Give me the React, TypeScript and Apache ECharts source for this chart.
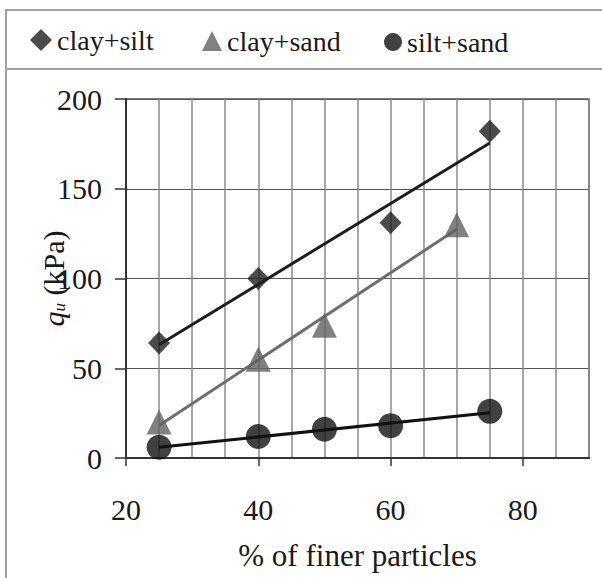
import React, { useEffect, useRef } from "react";
import * as echarts from "echarts";

const seriesNames = ["clay+silt", "clay+sand", "silt+sand"];
const claySiltX = [25, 40, 60, 75];
const claySiltY = [64, 100, 131, 182];
const claySandX = [25, 40, 50, 70];
const claySandY = [20, 55, 74, 130];
const siltSandX = [25, 40, 50, 60, 75];
const siltSandY = [6, 12, 16, 18, 26];
const xMajorTicks = [20, 40, 60, 80];

const FONT = "Times New Roman, Liberation Serif, DejaVu Serif, serif";

function fit(xs: number[], ys: number[]) {
  const n = xs.length;
  const mx = xs.reduce((a, b) => a + b, 0) / n;
  const my = ys.reduce((a, b) => a + b, 0) / n;
  let sxy = 0;
  let sxx = 0;
  for (let i = 0; i < n; i++) {
    sxy += (xs[i] - mx) * (ys[i] - my);
    sxx += (xs[i] - mx) * (xs[i] - mx);
  }
  const b = sxy / sxx;
  const a = my - b * mx;
  const x0 = Math.min(...xs);
  const x1 = Math.max(...xs);
  return [
    [x0, a + b * x0],
    [x1, a + b * x1],
  ];
}

function pts(xs: number[], ys: number[]) {
  return xs.map((x, i) => [x, ys[i]]);
}

export default function App() {
  const ref = useRef<HTMLDivElement>(null);
  useEffect(() => {
    document.body.style.margin = "0";
    const chart = echarts.init(ref.current!, null, { renderer: "svg" });
    const colors = ["#1e1e1e", "#626262", "#111111"];
    const legendBase = {
      top: 27,
      padding: 0,
      itemWidth: 20,
      itemHeight: 20,
      textStyle: { fontSize: 28, fontFamily: FONT, color: "#1a1a1a" },
      selectedMode: false,
    };
    chart.setOption({
      animation: false,
      backgroundColor: "#fff",
      textStyle: { fontFamily: FONT },
      graphic: [
        {
          type: "rect",
          shape: { x: 6, y: 10, width: 700, height: 700 },
          style: { fill: "none", stroke: "#a0a0a0", lineWidth: 2 },
          silent: true,
          z: -1,
        },
        {
          type: "line",
          shape: { x1: 6, y1: 69, x2: 700, y2: 69 },
          style: { stroke: "#a0a0a0", lineWidth: 2 },
          silent: true,
        },
      ],
      legend: [
        { ...legendBase, left: 30, itemWidth: 22, itemHeight: 22, top: 26, data: [seriesNames[0]] },
        { ...legendBase, left: 202, data: [seriesNames[1]] },
        { ...legendBase, left: 384, itemWidth: 18, itemHeight: 18, top: 28, data: [seriesNames[2]] },
      ],
      grid: { left: 126, top: 99, right: 13, bottom: 120, show: true, borderColor: "#555", borderWidth: 1.5 },
      xAxis: [
        {
          type: "value",
          min: 20,
          max: 90,
          interval: 5,
          axisLine: { lineStyle: { color: "#333", width: 2 } },
          axisTick: { show: false },
          axisLabel: { show: false },
          splitLine: { show: true, lineStyle: { color: "#8a8a8a", width: 1.5 } },
        },
        {
          type: "value",
          position: "bottom",
          min: 20,
          max: 90,
          interval: 5,
          name: "% of finer particles",
          nameLocation: "middle",
          nameGap: 82,
          nameMoveOverlap: false,
          nameTextStyle: { fontSize: 31, fontFamily: FONT, color: "#1a1a1a" },
          axisLine: { show: false },
          axisTick: { show: true, customValues: xMajorTicks, length: 8, lineStyle: { color: "#333", width: 1.5 } },
          axisLabel: { customValues: xMajorTicks, margin: 36, fontSize: 30, fontFamily: FONT, color: "#1a1a1a" },
          splitLine: { show: false },
        },
      ],
      yAxis: {
        type: "value",
        min: 0,
        max: 200,
        interval: 50,
        name: "{q|q}{u|u}{k| (kPa)}",
        nameLocation: "middle",
        nameGap: 58,
        nameMoveOverlap: false,
        nameRotate: 90,
        nameTextStyle: {
          fontSize: 30,
          fontFamily: FONT,
          color: "#1a1a1a",
          rich: {
            q: { fontSize: 30, fontStyle: "italic", fontFamily: FONT, color: "#1a1a1a", lineHeight: 34, verticalAlign: "bottom" },
            u: { fontSize: 17, fontStyle: "italic", fontFamily: FONT, color: "#1a1a1a", lineHeight: 34, verticalAlign: "bottom" },
            k: { fontSize: 30, fontFamily: FONT, color: "#1a1a1a", lineHeight: 34, verticalAlign: "bottom" },
          },
        },
        axisLine: { lineStyle: { color: "#333", width: 2 } },
        axisTick: { show: true, length: 11, lineStyle: { color: "#333", width: 1.5 } },
        axisLabel: { margin: 24, fontSize: 30, fontFamily: FONT, color: "#1a1a1a" },
        splitLine: { show: true, lineStyle: { color: "#555", width: 1.2 } },
      },
      series: [
        {
          type: "line",
          data: fit(claySiltX, claySiltY),
          symbol: "none",
          lineStyle: { color: colors[0], width: 3 },
          z: 2,
        },
        {
          type: "line",
          data: fit(claySandX, claySandY),
          symbol: "none",
          lineStyle: { color: "#6e6e6e", width: 3 },
          z: 2,
        },
        {
          type: "line",
          data: fit(siltSandX, siltSandY),
          symbol: "none",
          lineStyle: { color: colors[2], width: 3 },
          z: 2,
        },
        {
          name: seriesNames[0],
          type: "scatter",
          data: pts(claySiltX, claySiltY),
          symbol: "diamond",
          symbolSize: [22, 23],
          itemStyle: { color: colors[0] },
          z: 3,
        },
        {
          name: seriesNames[1],
          type: "scatter",
          data: pts(claySandX, claySandY),
          symbol: "triangle",
          symbolSize: [25, 25],
          itemStyle: { color: colors[1] },
          z: 3,
        },
        {
          name: seriesNames[2],
          type: "scatter",
          data: pts(siltSandX, siltSandY),
          symbol: "circle",
          symbolSize: 25,
          itemStyle: { color: colors[2] },
          z: 3,
        },
      ],
    });
    return () => chart.dispose();
  }, []);
  return <div ref={ref} style={{ width: 602, height: 578 }} />;
}
